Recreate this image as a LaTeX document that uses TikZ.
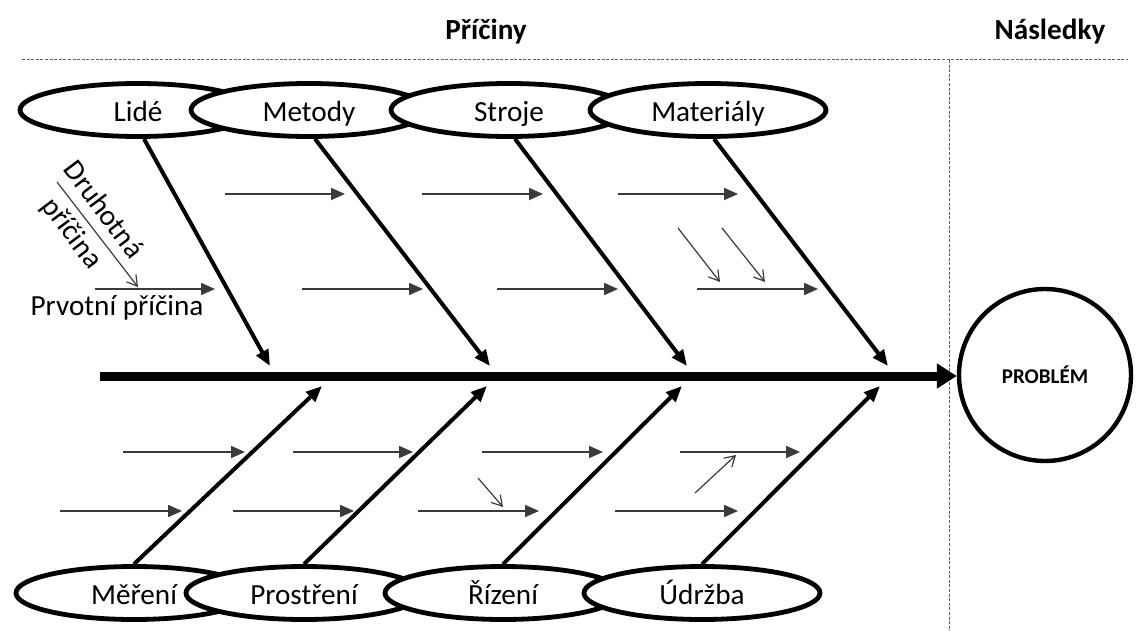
\documentclass[tikz,border=0pt]{standalone}
\usepackage{fontspec}
\setmainfont{Carlito}
\definecolor{inkgray}{HTML}{3A3A3A}
\definecolor{dashgray}{HTML}{606060}
\usepackage{tikz}
\usetikzlibrary{arrows.meta, positioning, shapes.geometric}

\begin{document}
\begin{tikzpicture}[x=0.5pt, y=-0.5pt,
    cause/.style={ellipse, draw=black, fill=white, line width=2.4pt, minimum width=118pt, minimum height=26.5pt, inner sep=0pt, text height=12pt, text depth=1pt, font=\fontsize{14.6}{17}\selectfont},
    bone/.style={-{Triangle[length=8pt, width=6.5pt]}, line width=2pt},
    sub/.style={-{Triangle[length=7pt, width=6pt]}, line width=0.9pt, color=inkgray},
    sec/.style={-{Straight Barb[length=5pt, width=6pt]}, line width=0.6pt, color=inkgray},
    sep/.style={draw=dashgray, line width=0.5pt, dash pattern=on 1.5pt off 0.8pt},
    head/.style={font=\fontsize{14.6}{17}\selectfont\bfseries},
]
    \useasboundingbox (0,0) rectangle (1140,631);

    % Headings
    \node[head] (priciny) at (486,32) {Příčiny};
    \node[head] (nasledky) at (1050,32) {Následky};
    \coordinate (hl) at (22,60);
    \coordinate (hr) at (1128,60);
    \coordinate (vt) at (949,60);
    \coordinate (vb) at (949,631);
    \draw[sep] (hl) -- (hr);
    \draw[sep] (vt) -- (vb);

    % Problem and spine
    \node[circle, draw, line width=2.2pt, minimum size=86pt, inner sep=0pt, font=\fontsize{10.5}{12}\selectfont\bfseries] (problem) at (1045,375) {PROBLÉM};
    \coordinate (tail) at (100,376);
    \draw[line width=4.5pt, -{Triangle[length=10pt, width=12pt]}] (tail) -- (tail -| problem.west);

    % Main causes
    \node[cause] (lide) at (138,110) {Lidé};
    \node[cause] (metody) at (309,110) {Metody};
    \node[cause] (stroje) at (509,110) {Stroje};
    \node[cause] (materialy) at (708,110) {Materiály};
    \node[cause] (mereni) at (134,593) {Měření};
    \node[cause] (prostreni) at (304,593) {Prostření};
    \node[cause] (rizeni) at (503,593) {Řízení};
    \node[cause] (udrzba) at (702,593) {Údržba};

    % Bones
    \foreach \n/\x [count=\i] in {lide/270, metody/490, stroje/687, materialy/888} {
        \coordinate (t\i) at (\x,366);
        \draw[bone] ([xshift=3pt]\n.south) -- (t\i);
    }
    \foreach \n/\x [count=\i] in {mereni/322, prostreni/487, rizeni/682, udrzba/880} {
        \coordinate (b\i) at (\x,386);
        \draw[bone] (\n.north) -- (b\i);
    }

    % Primary causes
    \foreach \a/\b/\y [count=\i] in {225/345/194, 422/543/194, 618/738/194,
        95/215/289, 302/423/289, 497/618/289, 697/818/289,
        123/245/452, 293/413/452, 482/603/452, 680/800/452,
        60/182/511, 233/354/511, 418/539/511, 615/738/511} {
        \coordinate (s\i) at (\a,\y);
        \coordinate (e\i) at (\b,\y);
        \draw[sub] (s\i) -- (e\i);
    }

    % Secondary causes
    \foreach \a/\b/\c/\d [count=\i] in {57/182/138/287, 678/228/720/282, 722/228/765/282,
        478/478/503/507, 695/493/736/455} {
        \coordinate (p\i) at (\a,\b);
        \coordinate (q\i) at (\c,\d);
        \draw[sec] (p\i) -- (q\i);
    }

    % Labels
    \node[font=\fontsize{14.6}{17}\selectfont] (prvotni) at (117,308) {Prvotní příčina};
    \node[rotate=-53, align=center, inner sep=0pt, font=\fontsize{14.6}{19.5}\selectfont] (druhotna) at (87,222) {Druhotná\\příčina};
\end{tikzpicture}
\end{document}
